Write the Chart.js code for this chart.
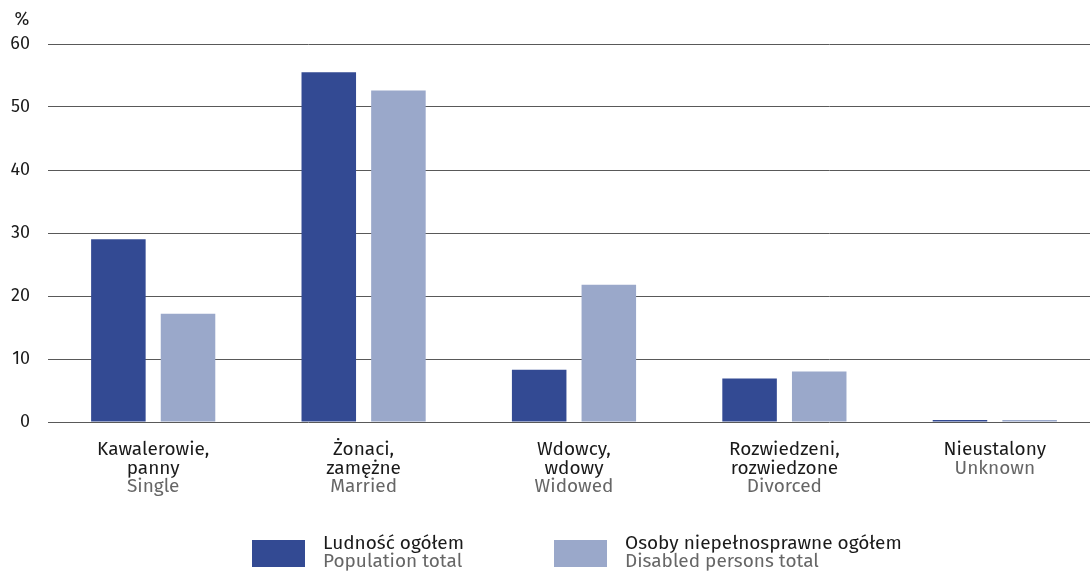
<!DOCTYPE html>
<html>
<head>
<meta charset="utf-8">
<script src="https://cdn.jsdelivr.net/npm/chart.js@4/dist/chart.umd.min.js"></script>
<style>
  html, body { margin: 0; padding: 0; background: #fff; }
  #wrap { width: 1090px; height: 571px; position: relative; }
</style>
</head>
<body>
<div id="wrap"><canvas id="c"></canvas></div>
<script>
const categoriesPl = [['Kawalerowie,', 'panny'], ['Żonaci,', 'zamężne'], ['Wdowcy,', 'wdowy'], ['Rozwiedzeni,', 'rozwiedzone'], ['Nieustalony']];
const categoriesEn = ['Single', 'Married', 'Widowed', 'Divorced', 'Unknown'];
const populationTotal = [29.0, 55.5, 8.3, 6.9, 0.3];
const disabledTotal = [17.2, 52.6, 21.8, 8.0, 0.3];
const seriesPl = ['Ludność ogółem', 'Osoby niepełnosprawne ogółem'];
const seriesEn = ['Population total', 'Disabled persons total'];
const yTicks = [0, 10, 20, 30, 40, 50, 60];

const FONT = '"Fira Sans", "Noto Sans", sans-serif';
const dark = '#334a93', light = '#9aa8ca';

// category axis runs a little past the right edge in the original
const widenX = {
  id: 'widenX',
  afterLayout(chart) {
    const x = chart.scales.x;
    x.right += 10; x.width += 10;
    x.configure();
  }
};

const labelsPlugin = {
  id: 'labels',
  afterDraw(chart) {
    const ctx = chart.ctx, x = chart.scales.x;
    ctx.save();
    ctx.font = '19px ' + FONT;
    ctx.textAlign = 'center';
    ctx.textBaseline = 'middle';
    categoriesPl.forEach((lines, i) => {
      const px = x.getPixelForValue(i);
      let y = 450;
      ctx.fillStyle = '#1a1a1a';
      lines.forEach(t => { ctx.fillText(t, px, y); y += 18.5; });
      ctx.fillStyle = '#666';
      ctx.fillText(categoriesEn[i], px, y);
    });
    // "%" unit
    ctx.font = '18px ' + FONT;
    ctx.fillStyle = '#1a1a1a';
    ctx.fillText('%', 22, 20);
    // legend
    ctx.font = '19px ' + FONT;
    const lx = [252, 554], colors = [dark, light];
    ctx.textAlign = 'left';
    lx.forEach((x0, i) => {
      ctx.fillStyle = colors[i];
      ctx.fillRect(x0, 540, 53, 27);
      ctx.fillStyle = '#1a1a1a';
      ctx.fillText(seriesPl[i], x0 + 71, 544);
      ctx.fillStyle = '#666';
      ctx.fillText(seriesEn[i], x0 + 71, 562);
    });
    ctx.restore();
  }
};

new Chart(document.getElementById('c'), {
  type: 'bar',
  data: {
    labels: categoriesEn,
    datasets: [
      { label: seriesPl[0], data: populationTotal, backgroundColor: dark },
      { label: seriesPl[1], data: disabledTotal, backgroundColor: light }
    ]
  },
  options: {
    responsive: true, maintainAspectRatio: false, animation: false,
    layout: { padding: { top: 44, right: 0, left: 0, bottom: 0 } },
    categoryPercentage: 0.662, barPercentage: 0.783,
    plugins: { legend: { display: false }, tooltip: { enabled: false } },
    scales: {
      x: {
        grid: { display: false },
        border: { display: false },
        ticks: { display: false },
        afterFit(s) { s.height = 149; }
      },
      y: {
        min: 0, max: 60,
        afterBuildTicks(s) { s.ticks = yTicks.map(v => ({ value: v })); },
        afterFit(s) { s.width = 48; },
        grid: { color: '#595959', lineWidth: 1, drawTicks: false },
        border: { display: false },
        ticks: { padding: 18, color: '#1a1a1a', font: { family: FONT, size: 18 } }
      }
    }
  },
  plugins: [widenX, labelsPlugin]
});
</script>
</body>
</html>
